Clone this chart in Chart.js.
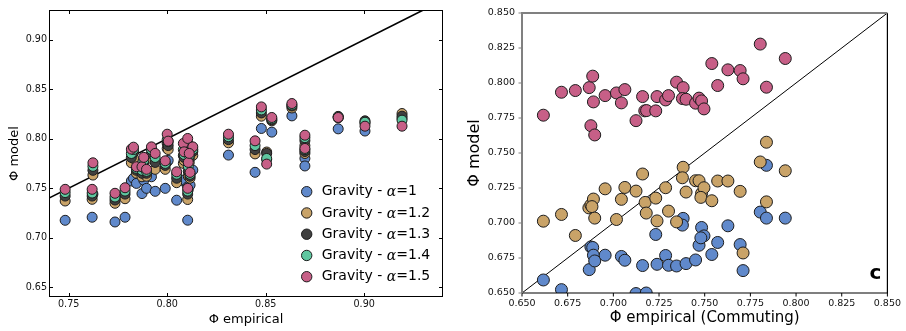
<!DOCTYPE html>
<html><head><meta charset="utf-8">
<script src="https://cdn.jsdelivr.net/npm/chart.js@4.4.1/dist/chart.umd.min.js"></script>
<style>
html,body{margin:0;padding:0;background:#fff;}
#wrap{position:relative;width:906px;height:331px;overflow:hidden;background:#fff;}
canvas{position:absolute;top:0;}
#c1{left:0;width:460px;height:331px;}
#c2{left:460px;width:446px;height:331px;}
</style></head><body>
<div id="wrap"><canvas id="c1" width="460" height="331"></canvas><canvas id="c2" width="446" height="331"></canvas></div>
<script>
// ---------- Left panel data ----------
const seriesNames = ['Gravity - α=1','Gravity - α=1.2','Gravity - α=1.3','Gravity - α=1.4','Gravity - α=1.5'];
const empX = [0.7482,0.7623,0.7619,0.7735,0.7786,0.7818,0.7829,0.7844,0.7872,0.7881,0.7895,0.7920,0.7939,0.7990,0.8000,0.8005,0.8048,0.8082,0.8086,0.8104,0.8104,0.8107,0.8116,0.8130,0.8112,0.8311,0.8446,0.8478,0.8505,0.8531,0.8633,0.8699,0.8699,0.8868,0.9004,0.9192];
const gravA10 = [0.7175,0.7440,0.7206,0.7158,0.7206,0.7572,0.7600,0.7548,0.7445,0.7580,0.7498,0.7615,0.7468,0.7498,0.7766,0.7780,0.7378,0.7572,0.7582,0.7176,0.7514,0.7488,0.7530,0.7682,0.7650,0.7834,0.7660,0.8103,0.7790,0.8066,0.8230,0.7800,0.7724,0.8099,0.8077,0.8205];
const gravA12 = [0.7370,0.7632,0.7387,0.7347,0.7393,0.7756,0.7800,0.7650,0.7615,0.7700,0.7620,0.7800,0.7690,0.7690,0.7900,0.7890,0.7555,0.7750,0.7780,0.7385,0.7870,0.7620,0.7600,0.7830,0.7760,0.7958,0.7846,0.8227,0.7865,0.8180,0.8310,0.7930,0.7850,0.8210,0.8155,0.8254];
const gravA13 = [0.7420,0.7680,0.7420,0.7380,0.7440,0.7810,0.7860,0.7680,0.7650,0.7740,0.7650,0.7850,0.7760,0.7730,0.7950,0.7930,0.7600,0.7830,0.7810,0.7440,0.7920,0.7670,0.7620,0.7870,0.7800,0.7990,0.7890,0.8260,0.7851,0.8190,0.8330,0.7980,0.7870,0.8225,0.8180,0.8227];
const gravA14 = [0.7455,0.7720,0.7450,0.7410,0.7470,0.7850,0.7890,0.7700,0.7680,0.7780,0.7670,0.7890,0.7810,0.7750,0.7990,0.7970,0.7640,0.7890,0.7840,0.7470,0.7960,0.7720,0.7640,0.7890,0.7830,0.8020,0.7930,0.8290,0.7800,0.8200,0.8340,0.8010,0.7890,0.8220,0.8166,0.8187];
const gravA15 = [0.7488,0.7756,0.7488,0.7448,0.7504,0.7894,0.7914,0.7716,0.7716,0.7811,0.7690,0.7917,0.7851,0.7776,0.8045,0.7975,0.7665,0.7952,0.7867,0.7498,0.8002,0.7760,0.7659,0.7917,0.7851,0.8045,0.7978,0.8321,0.7743,0.8214,0.8355,0.8035,0.7901,0.8214,0.8126,0.8126];
const leftXTicks = [0.75,0.80,0.85,0.90];
const leftYTicks = [0.65,0.70,0.75,0.80,0.85,0.90];
const leftDiag = [0.74,0.93];

// ---------- Right panel data ----------
const pinkX = [0.6617,0.6716,0.6792,0.6868,0.6887,0.6891,0.6877,0.6898,0.6955,0.7017,0.7044,0.7063,0.7124,0.7160,0.7172,0.7182,0.7232,0.7239,0.7286,0.7302,0.7346,0.7382,0.7378,0.7398,0.7450,0.7469,0.7483,0.7496,0.7539,0.7571,0.7627,0.7694,0.7710,0.7804,0.7838,0.7941];
const pinkY = [0.7770,0.7934,0.7946,0.7967,0.8049,0.7865,0.7695,0.7629,0.7910,0.7929,0.7858,0.7953,0.7731,0.7903,0.7801,0.7803,0.7801,0.7903,0.7879,0.7910,0.8006,0.7967,0.7889,0.7884,0.7856,0.7892,0.7872,0.7815,0.8139,0.7982,0.8094,0.8089,0.8030,0.8278,0.7970,0.8175];
const tanX = [0.6617,0.6716,0.6792,0.6866,0.6877,0.6891,0.6883,0.6898,0.6955,0.7017,0.7044,0.7063,0.7124,0.7160,0.7174,0.7180,0.7232,0.7239,0.7286,0.7302,0.7346,0.7382,0.7378,0.7398,0.7450,0.7469,0.7483,0.7496,0.7479,0.7539,0.7571,0.7627,0.7694,0.7710,0.7804,0.7838,0.7838,0.7941];
const tanY = [0.7013,0.7061,0.6911,0.7108,0.7130,0.7171,0.7117,0.7035,0.7244,0.7025,0.7169,0.7254,0.7228,0.7350,0.7147,0.7071,0.7178,0.7015,0.7252,0.7085,0.7008,0.7398,0.7323,0.7221,0.7302,0.7302,0.7212,0.7252,0.7183,0.7159,0.7300,0.7300,0.7226,0.6786,0.7436,0.7577,0.7151,0.7373];
const blueX = [0.6617,0.6716,0.6868,0.6877,0.6887,0.6891,0.6898,0.6955,0.7044,0.7063,0.7124,0.7180,0.7160,0.7232,0.7239,0.7286,0.7302,0.7346,0.7382,0.7378,0.7398,0.7450,0.7469,0.7483,0.7496,0.7479,0.7539,0.7571,0.7627,0.7694,0.7710,0.7804,0.7838,0.7838,0.7941];
const blueY = [0.6593,0.6524,0.6667,0.6829,0.6825,0.6770,0.6729,0.6770,0.6761,0.6734,0.6496,0.6500,0.6696,0.6918,0.6705,0.6768,0.6698,0.6693,0.7033,0.6985,0.6710,0.6736,0.6841,0.6968,0.6908,0.6894,0.6775,0.6861,0.6980,0.6846,0.6660,0.7078,0.7412,0.7035,0.7035];
const rightTicks = [0.650,0.675,0.700,0.725,0.750,0.775,0.800,0.825,0.850];
const rightDiag = [0.65,0.85];
const panelLetter = 'c';

// ---------- styling ----------
const FONT = '"DejaVu Sans", sans-serif';
const colors = ['#6089cb','#c9a368','#404040','#5fc7a0','#c75f87'];
const edge = '#1c1c1c';
const pts = (xs, ys) => xs.map((v,i)=>({x:v, y:ys[i]}));
const leftSeries = [gravA10, gravA12, gravA13, gravA14, gravA15];

function fixTicks(list){ return s => { s.ticks = list.map(v=>({value:v})); }; }

const frameLeft = {
  id:'frameLeft',
  afterDraw(chart){
    const {ctx, chartArea:a, scales:{x,y}} = chart;
    ctx.save();
    ctx.strokeStyle='#000'; ctx.lineWidth=1;
    ctx.strokeRect(a.left+0.5, a.top+0.5, a.right-a.left-1, a.bottom-a.top-1);
    const L=4;
    ctx.beginPath();
    x.ticks.forEach(t=>{const p=Math.round(x.getPixelForValue(t.value))+0.5;
      ctx.moveTo(p,a.bottom); ctx.lineTo(p,a.bottom-L); ctx.moveTo(p,a.top); ctx.lineTo(p,a.top+L);});
    y.ticks.forEach(t=>{const p=Math.round(y.getPixelForValue(t.value))+0.5;
      ctx.moveTo(a.left,p); ctx.lineTo(a.left+L,p); ctx.moveTo(a.right,p); ctx.lineTo(a.right-L,p);});
    ctx.stroke();
    // legend
    const mx = a.right-136.3, tx = a.right-121.3, y0 = a.bottom-105.3, dy = 21.25;
    seriesNames.forEach((name,i)=>{
      const yy = y0 + i*dy;
      ctx.beginPath(); ctx.arc(mx, yy, 5.2, 0, Math.PI*2);
      ctx.fillStyle=colors[i]; ctx.fill(); ctx.lineWidth=1; ctx.strokeStyle=edge; ctx.stroke();
      const parts = name.split('α');
      ctx.fillStyle='#000'; ctx.textBaseline='middle'; ctx.textAlign='left';
      let cx = tx;
      ctx.font='14px '+FONT; ctx.fillText(parts[0], cx, yy); cx += ctx.measureText(parts[0]).width;
      ctx.font='italic 14px "DejaVu Serif", serif'; ctx.fillText('α', cx, yy+1); cx += ctx.measureText('α').width;
      ctx.font='14px '+FONT; ctx.fillText(parts[1], cx, yy);
    });
    ctx.restore();
  }
};

const frameRight = {
  id:'frameRight',
  afterDraw(chart){
    const {ctx, chartArea:a, scales:{x,y}} = chart;
    ctx.save();
    const L=3.5;
    ctx.strokeStyle='#000'; ctx.lineWidth=1.2;
    ctx.beginPath(); ctx.moveTo(a.right, a.top); ctx.lineTo(a.right, a.bottom); ctx.lineTo(a.left, a.bottom); ctx.stroke();
    ctx.beginPath();
    x.ticks.forEach(t=>{const p=x.getPixelForValue(t.value); ctx.moveTo(p,a.bottom); ctx.lineTo(p,a.bottom+L);});
    ctx.lineWidth=1; ctx.stroke();
    ctx.strokeStyle='#808080'; ctx.lineWidth=2;
    ctx.beginPath(); ctx.moveTo(a.left, a.bottom); ctx.lineTo(a.left, a.top); ctx.lineTo(a.right, a.top); ctx.stroke();
    ctx.beginPath();
    y.ticks.forEach(t=>{const p=y.getPixelForValue(t.value); ctx.moveTo(a.left,p); ctx.lineTo(a.left-L,p);});
    ctx.lineWidth=1.2; ctx.stroke();
    ctx.fillStyle='#000'; ctx.font='bold 20px '+FONT; ctx.textAlign='center'; ctx.textBaseline='alphabetic';
    ctx.fillText(panelLetter, a.right-12, a.bottom-14.5);
    ctx.restore();
  }
};

const common = {
  responsive:false, animation:false, events:[],
  plugins:{legend:{display:false}, tooltip:{enabled:false}}
};

new Chart(document.getElementById('c1'), {
  type:'scatter',
  data:{datasets:[
    ...leftSeries.map((ys,i)=>({label:seriesNames[i], data:pts(empX, ys), backgroundColor:colors[i], borderColor:edge,
      borderWidth:1, pointRadius:5, order:5-i})),
    {type:'line', data:pts(leftDiag, leftDiag), showLine:true, borderColor:'#000', borderWidth:1.6, pointRadius:0, order:10}
  ]},
  options:{...common,
    layout:{padding:{top:10,right:17,left:0,bottom:0}},
    scales:{
      x:{type:'linear', min:0.74, max:0.94, afterBuildTicks:fixTicks(leftXTicks), afterFit:s=>{s.height=34;},
        grid:{display:false, drawTicks:false}, border:{display:false},
        ticks:{autoSkip:false, padding:2, color:'#111', font:{family:FONT, size:9.6}, callback:v=>Number(v).toFixed(2)},
        title:{display:true, text:'Φ empirical', color:'#000', font:{family:FONT, size:13}, padding:{top:0,bottom:4}}},
      y:{type:'linear', min:0.64, max:0.93, afterBuildTicks:fixTicks(leftYTicks), afterFit:s=>{s.width=49;},
        grid:{display:false, drawTicks:false}, border:{display:false},
        ticks:{autoSkip:false, padding:2, color:'#111', font:{family:FONT, size:9.6}, callback:v=>Number(v).toFixed(2)},
        title:{display:true, text:'Φ model', color:'#000', font:{family:FONT, size:13}, padding:{top:7,bottom:0}}}
    }
  },
  plugins:[frameLeft]
});

new Chart(document.getElementById('c2'), {
  type:'scatter',
  data:{datasets:[
    {data:pts(pinkX,pinkY), backgroundColor:colors[4], borderColor:edge, borderWidth:1, pointRadius:6, clip:0, order:1},
    {data:pts(tanX,tanY), backgroundColor:colors[1], borderColor:edge, borderWidth:1, pointRadius:6, clip:0, order:2},
    {data:pts(blueX,blueY), backgroundColor:colors[0], borderColor:edge, borderWidth:1, pointRadius:6, clip:0, order:3},
    {type:'line', data:pts(rightDiag,rightDiag), showLine:true, borderColor:'#000', borderWidth:1, pointRadius:0, order:10}
  ]},
  options:{...common,
    layout:{padding:{top:13,right:15,left:0,bottom:0}},
    scales:{
      x:{type:'linear', min:0.65, max:0.85, afterBuildTicks:fixTicks(rightTicks), afterFit:s=>{s.height=38;},
        grid:{display:false, drawTicks:false}, border:{display:false},
        ticks:{autoSkip:false, padding:5, maxRotation:0, color:'#111', font:{family:FONT, size:9.5}, callback:v=>Number(v).toFixed(3)},
        title:{display:true, text:'Φ empirical (Commuting)', color:'#000', font:{family:FONT, size:15}, padding:{top:0,bottom:4}}},
      y:{type:'linear', min:0.65, max:0.85, afterBuildTicks:fixTicks(rightTicks), afterFit:s=>{s.width=62;},
        grid:{display:false, drawTicks:false}, border:{display:false},
        ticks:{autoSkip:false, padding:7, color:'#111', font:{family:FONT, size:9.5}, callback:v=>Number(v).toFixed(3)},
        title:{display:true, text:'Φ model', color:'#000', font:{family:FONT, size:16}, padding:{top:5,bottom:0}}}
    }
  },
  plugins:[frameRight]
});
</script>
</body></html>
